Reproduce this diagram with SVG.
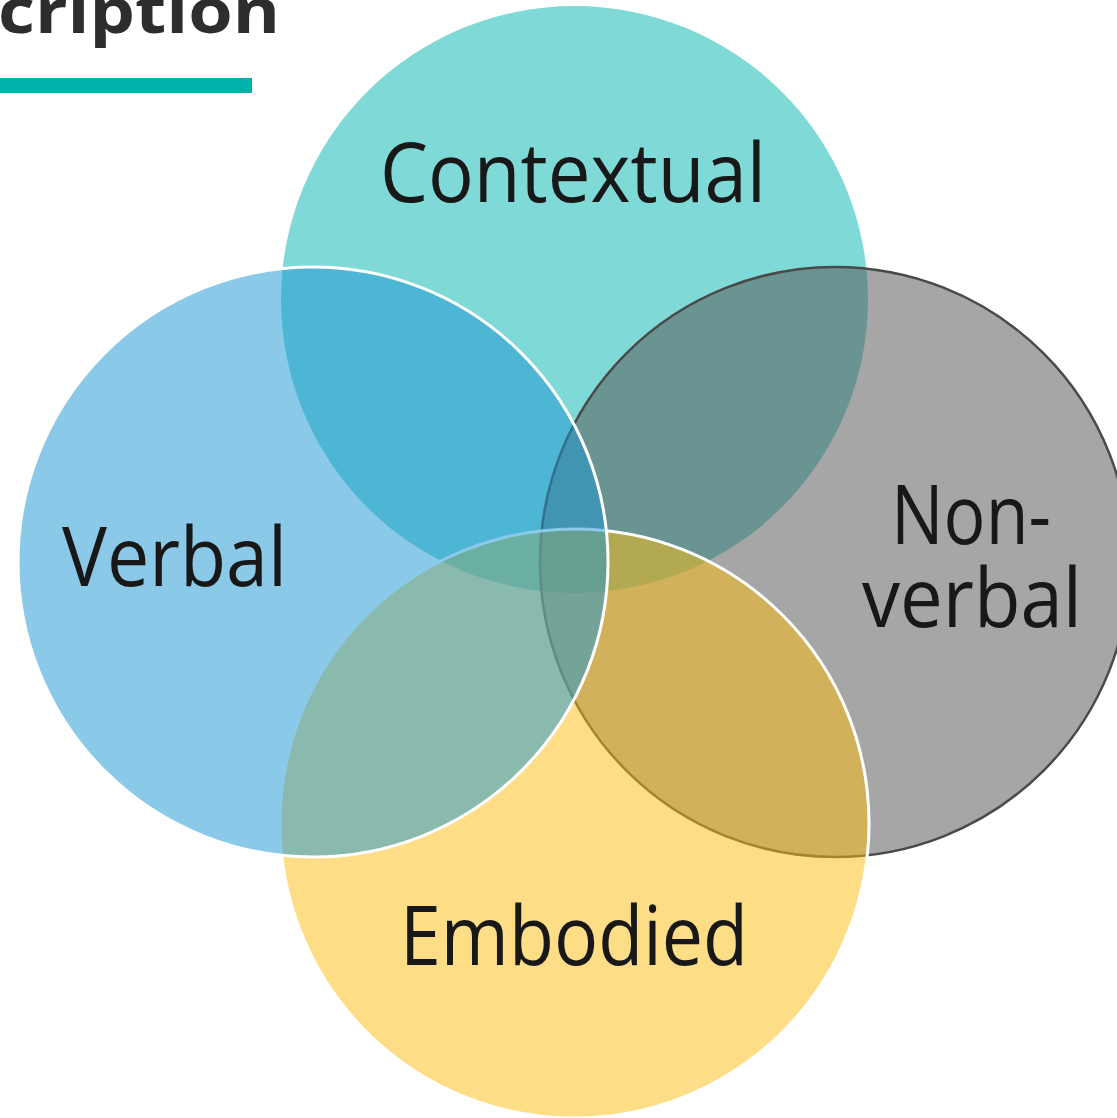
<svg xmlns="http://www.w3.org/2000/svg" width="1117" height="1118" viewBox="0 0 1117 1118">
<style>
.lbl{font-family:"Open Sans","Noto Sans","Liberation Sans",sans-serif;font-size:82px;fill:#181818}
.title{font-family:"Open Sans","Noto Sans","Liberation Sans",sans-serif;font-weight:bold;font-size:62px;fill:#2d2d2d}
</style>
<rect width="1117" height="1118" fill="#ffffff"/>
<g id="title">
<text class="title" x="-2" y="33" textLength="282" lengthAdjust="spacingAndGlyphs">cription</text>
<rect x="0" y="78" width="252" height="15" fill="#00b2aa"/>
</g>
<g id="contextual">
<circle cx="574.5" cy="299.5" r="293.5" fill="#00b4ad" fill-opacity="0.5"/>
</g>
<g id="nonverbal">
<circle cx="835" cy="562" r="295" fill="#545454" fill-opacity="0.52" stroke="#4a4a4a" stroke-width="2.5"/>
</g>
<g id="embodied">
<circle cx="574.5" cy="823.5" r="294.5" fill="#fbbe14" fill-opacity="0.51" stroke="#ffffff" stroke-width="3"/>
</g>
<g id="verbal">
<circle cx="313" cy="562" r="295" fill="#1b95d2" fill-opacity="0.51" stroke="#ffffff" stroke-width="3"/>
</g>
<g id="labels">
<text class="lbl" x="380" y="202" textLength="386" lengthAdjust="spacingAndGlyphs">Contextual</text>
<text class="lbl" x="62" y="586" textLength="225" lengthAdjust="spacingAndGlyphs">Verbal</text>
<text class="lbl" x="891" y="544" textLength="160" lengthAdjust="spacingAndGlyphs">Non-</text>
<text class="lbl" x="862" y="627" textLength="220" lengthAdjust="spacingAndGlyphs">verbal</text>
<text class="lbl" x="400" y="965" textLength="348" lengthAdjust="spacingAndGlyphs">Embodied</text>
</g>
<g id="connectors"/>
</svg>
